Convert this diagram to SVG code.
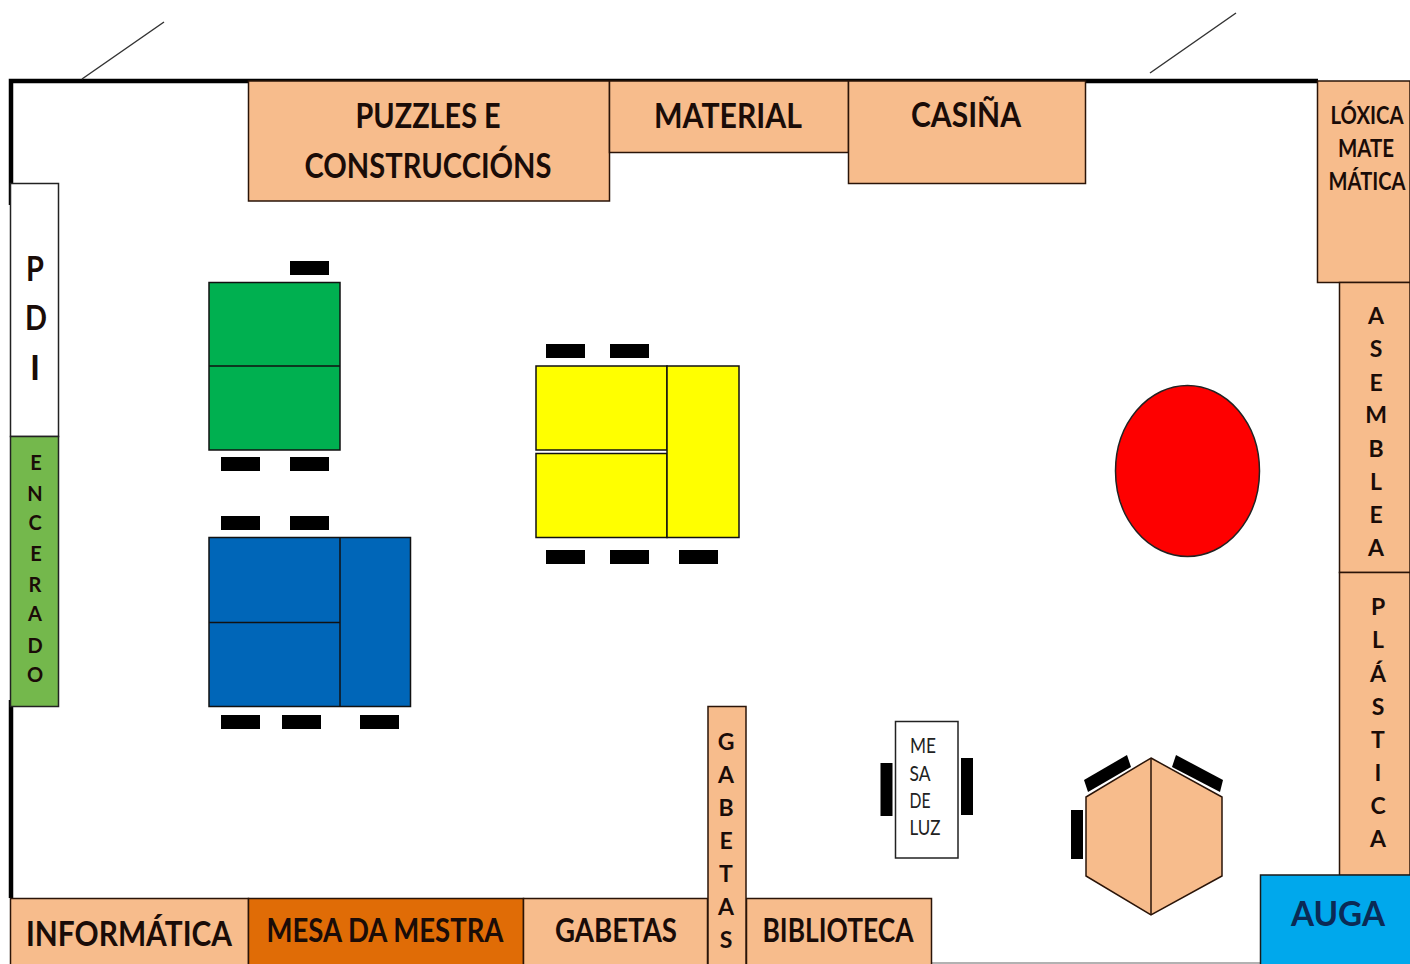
<svg xmlns="http://www.w3.org/2000/svg" width="1410" height="964" viewBox="0 0 1410 964">
<style>
.o{fill:#f7bc8c;stroke:#2a1408;stroke-width:1.5}
.c{fill:#000}
.g{fill:none;stroke:#111;stroke-width:1.5}
text{font-family:Lato,"Liberation Sans",sans-serif;font-weight:700;fill:#1a0c08;text-anchor:middle}
.v{font-size:23px}
.l{font-size:34px}
.m{font-size:32px}
.s{font-size:24px}
.e{font-size:20px}
.t{font-size:21px;font-weight:400;fill:#222}
</style>
<rect width="1410" height="964" fill="#fff"/>
<path d="M11 205V81H1318" fill="none" stroke="#000" stroke-width="4.500"/>
<path d="M11 700V898" fill="none" stroke="#000" stroke-width="4.500"/>
<path d="M930 963H1262" fill="none" stroke="#999" stroke-width="1.5"/>
<path d="M82 79L164 22M1150 73L1236 13" fill="none" stroke="#333" stroke-width="1.5"/>

<g id="puzzles"><rect class="o" x="248.500" y="81" width="361" height="120"/>
<text class="l" x="428" y="128" textLength="145" lengthAdjust="spacingAndGlyphs">PUZZLES E</text>
<text class="l" x="428" y="178" textLength="247" lengthAdjust="spacingAndGlyphs">CONSTRUCCIÓNS</text></g>
<g id="material"><rect class="o" x="609.500" y="81" width="239" height="71.500"/>
<text class="l" x="728" y="128" textLength="148" lengthAdjust="spacingAndGlyphs">MATERIAL</text></g>
<g id="casina"><rect class="o" x="848.500" y="81" width="237" height="102.500"/>
<text class="l" x="966" y="127" textLength="110" lengthAdjust="spacingAndGlyphs">CASIÑA</text></g>
<g id="loxica"><rect class="o" x="1317.500" y="81" width="92.500" height="201.500"/>
<text class="s" transform="translate(1367 124) scale(.845 1)">LÓXICA</text>
<text class="s" x="1366" y="157" textLength="56" lengthAdjust="spacingAndGlyphs">MATE</text>
<text class="s" transform="translate(1367 190) scale(.837 1)">MÁTICA</text></g>
<g id="asemblea"><rect class="o" x="1339.500" y="282.500" width="70.500" height="290"/>
<text class="v" x="1376" y="324">A</text><text class="v" x="1376" y="357">S</text><text class="v" x="1376" y="391">E</text><text class="v" x="1376" y="423">M</text><text class="v" x="1376" y="457">B</text><text class="v" x="1376" y="490">L</text><text class="v" x="1376" y="523">E</text><text class="v" x="1376" y="556">A</text></g>
<g id="plastica"><rect class="o" x="1339.500" y="572.500" width="70.500" height="303"/>
<text class="v" x="1378" y="615">P</text><text class="v" x="1378" y="648">L</text><text class="v" x="1378" y="682">Á</text><text class="v" x="1378" y="715">S</text><text class="v" x="1378" y="748">T</text><text class="v" x="1378" y="781">I</text><text class="v" x="1378" y="814">C</text><text class="v" x="1378" y="847">A</text></g>
<g id="auga"><rect x="1260.500" y="875" width="151" height="90" fill="#00a8ec" stroke="#1a1a1a" stroke-width="1.500"/>
<text class="l" x="1338" y="926" textLength="94" lengthAdjust="spacingAndGlyphs" style="fill:#0b2a55">AUGA</text></g>

<g id="pdi"><rect x="10.500" y="183.500" width="48" height="253" fill="#fff" stroke="#222" stroke-width="1.500"/>
<text class="l" transform="translate(35 281) scale(.85 1)">P</text><text class="l" transform="translate(36 330) scale(.85 1)">D</text><text class="l" x="35" y="380">I</text></g>
<g id="encerado"><rect x="10.500" y="436.500" width="48" height="270" fill="#74b84c" stroke="#222" stroke-width="1.500"/>
<text class="e" x="36" y="470">E</text><text class="e" x="35" y="501">N</text><text class="e" x="35" y="530">C</text><text class="e" x="36" y="561">E</text><text class="e" x="35" y="592">R</text><text class="e" x="35" y="621">A</text><text class="e" x="35" y="653">D</text><text class="e" x="35" y="682">O</text></g>

<g id="informatica"><rect class="o" x="10.500" y="898.500" width="238" height="67"/>
<text class="l" x="129" y="946" textLength="206" lengthAdjust="spacingAndGlyphs">INFORMÁTICA</text></g>
<g id="mesa-mestra"><rect x="248.500" y="898.500" width="275" height="67" fill="#e06c06" stroke="#2a1408" stroke-width="1.500"/>
<text class="m" x="385" y="942" textLength="237" lengthAdjust="spacingAndGlyphs">MESA DA MESTRA</text></g>
<g id="gabetas-h"><rect class="o" x="523.500" y="898.500" width="184" height="67"/>
<text class="m" x="616" y="942" textLength="122" lengthAdjust="spacingAndGlyphs">GABETAS</text></g>
<g id="biblioteca"><rect class="o" x="746.500" y="898.500" width="185" height="67"/>
<text class="m" x="838" y="942" textLength="151" lengthAdjust="spacingAndGlyphs">BIBLIOTECA</text></g>
<g id="gabetas-v"><rect class="o" x="708" y="706.500" width="38" height="259"/>
<text class="v" x="726" y="750">G</text><text class="v" x="726" y="783">A</text><text class="v" x="726" y="816">B</text><text class="v" x="726" y="849">E</text><text class="v" x="726" y="882">T</text><text class="v" x="726" y="915">A</text><text class="v" x="726" y="948">S</text></g>

<g id="mesa-verde">
<rect x="209" y="282.500" width="131" height="167.500" fill="#00b050" stroke="#111" stroke-width="1.500"/>
<path class="g" d="M209 366H340"/>
<rect class="c" x="290" y="261" width="39" height="14"/>
<rect class="c" x="221" y="457" width="39" height="14"/>
<rect class="c" x="290" y="457" width="39" height="14"/></g>

<g id="mesa-azul">
<rect x="209" y="537.500" width="201.500" height="169" fill="#0066b8" stroke="#111" stroke-width="1.500"/>
<path class="g" d="M340 537.500V706.500M209 622.500H340"/>
<rect class="c" x="221" y="516" width="39" height="14"/>
<rect class="c" x="290" y="516" width="39" height="14"/>
<rect class="c" x="221" y="715" width="39" height="14"/>
<rect class="c" x="282" y="715" width="39" height="14"/>
<rect class="c" x="360" y="715" width="39" height="14"/></g>

<g id="mesa-amarela">
<rect x="536" y="366" width="131" height="84" fill="#ffff00" stroke="#111" stroke-width="1.500"/>
<rect x="536" y="453.500" width="131" height="84" fill="#ffff00" stroke="#111" stroke-width="1.500"/>
<rect x="667" y="366" width="72" height="171.500" fill="#ffff00" stroke="#111" stroke-width="1.500"/>
<rect class="c" x="546" y="344" width="39" height="14"/>
<rect class="c" x="610" y="344" width="39" height="14"/>
<rect class="c" x="546" y="550" width="39" height="14"/>
<rect class="c" x="610" y="550" width="39" height="14"/>
<rect class="c" x="679" y="550" width="39" height="14"/></g>

<g id="circulo"><ellipse cx="1187.500" cy="471" rx="72" ry="85.500" fill="#fe0000" stroke="#222" stroke-width="1.500"/></g>

<g id="mesa-luz"><rect x="895.500" y="721.500" width="62.500" height="136.500" fill="#fff" stroke="#222" stroke-width="1.500"/>
<text class="t" x="923" y="753" textLength="26" lengthAdjust="spacingAndGlyphs">ME</text><text class="t" x="920" y="781" textLength="21" lengthAdjust="spacingAndGlyphs">SA</text><text class="t" x="920" y="808" textLength="21" lengthAdjust="spacingAndGlyphs">DE</text><text class="t" x="925" y="835" textLength="31" lengthAdjust="spacingAndGlyphs">LUZ</text>
<rect class="c" x="880.500" y="763" width="12" height="53"/>
<rect class="c" x="961" y="758" width="12" height="57"/></g>

<g id="mesa-hexagonal">
<polygon points="1151,758 1222,797 1222,876 1151,915 1086,876 1086,797" fill="#f7bc8c" stroke="#2a1408" stroke-width="1.500"/>
<path d="M1151 758V915" stroke="#2a1408" stroke-width="1.500"/>
<polygon class="c" points="1084,780 1127,755 1131,767 1088,792"/>
<polygon class="c" points="1176,755 1223,780 1220,792 1172,767"/>
<rect class="c" x="1071" y="810" width="12" height="49"/></g>
</svg>
